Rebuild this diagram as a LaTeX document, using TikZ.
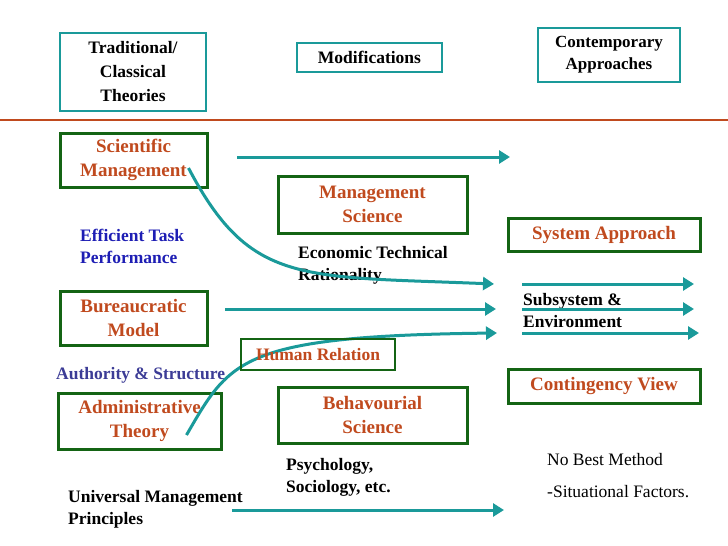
\documentclass[tikz,border=0pt]{standalone}
\usepackage{fontspec}
\setmainfont{Liberation Serif}
\usetikzlibrary{arrows.meta}
\definecolor{teal1}{HTML}{1A9A9A}
\definecolor{boxgreen}{HTML}{146414}
\definecolor{rust}{HTML}{C04A1E}
\definecolor{navy1}{HTML}{1E1EB4}
\definecolor{slate1}{HTML}{3C3C96}
\tikzset{
  tbox/.style={draw=teal1, line width=1.8pt, inner sep=0pt, font=\fontsize{17.5}{24}\selectfont\bfseries, align=center},
  gbox/.style={draw=boxgreen, line width=3pt, inner sep=0pt, text=rust, font=\fontsize{19}{24}\selectfont\bfseries, align=center},
  note/.style={anchor=north west, align=left, inner sep=0pt, font=\fontsize{17.5}{22}\selectfont\bfseries},
  flow/.style={teal1, line width=3pt, -{Triangle[length=11pt,width=13pt]}}
}
\begin{document}
\begin{tikzpicture}[x=1pt, y=-1pt]

\useasboundingbox (0,0) rectangle (728,546);

% heading row
\node[tbox, minimum width=146, minimum height=78] (trad) at (133,72) {Traditional/\\Classical\\Theories};
\node[tbox, minimum width=145, minimum height=29] (modif) at (369.5,57.5) {Modifications};
\node[tbox, minimum width=142, minimum height=54, font=\fontsize{17}{22}\selectfont\bfseries] (contemp) at (609,55) {Contemporary\\Approaches};
\draw[rust, line width=1.8pt] (0,120) -- (728,120);

% theories
\node[gbox, minimum width=147, minimum height=54] (sci) at (133.5,160) {Scientific\\Management};
\node[gbox, minimum width=147, minimum height=54] (bur) at (133.5,318) {Bureaucratic\\Model};
\node[gbox, minimum width=163, minimum height=56] (adm) at (139.5,421) {Administrative\\Theory};

% modifications
\node[gbox, minimum width=189, minimum height=57] (mgsci) at (372.5,204.5) {Management\\Science};
\node[gbox, minimum width=189, minimum height=56] (behav) at (372.5,415) {Behavourial\\Science};

% contemporary
\node[gbox, minimum width=192, minimum height=33] (sys) at (604,234.5) {System Approach};
\node[gbox, minimum width=192, minimum height=34] (cont) at (604,386) {Contingency View};

% notes
\node[note, text=navy1] (eff) at (80,229) {Efficient Task\\Performance};
\node[note] (econ) at (298,246) {Economic Technical\\Rationality};
\node[note] (subs) at (523,293) {Subsystem \&\\Environment};
\node[note, text=slate1] (auth) at (56,367) {Authority \& Structure};
\node[note] (psy) at (286,458) {Psychology,\\Sociology, etc.};
\node[note] (univ) at (68,490) {Universal Management\\Principles};
\node[note, font=\fontsize{17.5}{32}\selectfont] (nobest) at (547,453) {No Best Method\\-Situational Factors.};

% connectors
\coordinate (a1) at (237,157);
\coordinate (b1) at (510,157);
\coordinate (a3) at (225,309);
\coordinate (b3) at (496,309);
\coordinate (a6) at (232,510);
\coordinate (b6) at (504,510);
\draw[flow] (a1) -- (b1);
\draw[flow] (a3) -- (b3);
\draw[flow] (a6) -- (b6);
\draw[flow] (sci.east) ++(-20,8) .. controls (250,285) and (300,276) .. (494,284);
\draw[flow] (adm.east) ++(-36,14) .. controls (230,360) and (240,336) .. (497,333);

% human relation drawn over the curve start
\node[gbox, minimum width=154, minimum height=31, font=\fontsize{17.5}{20}\selectfont\bfseries, line width=2.5pt] (human) at (318,354.5) {Human Relation};

\coordinate (r1) at (522,284);
\coordinate (r2) at (522,309);
\coordinate (r3) at (522,333);
\draw[flow] (r1) -- +(172,0);
\draw[flow] (r2) -- +(172,0);
\draw[flow] (r3) -- +(177,0);

\end{tikzpicture}
\end{document}
